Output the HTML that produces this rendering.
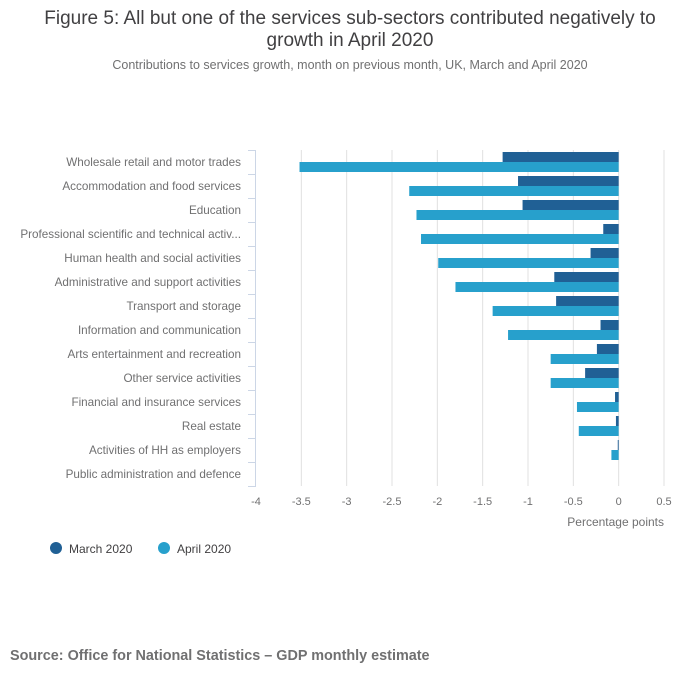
<!DOCTYPE html>
<html><head><meta charset="utf-8"><style>
body{margin:0;background:#fff;font-family:"Liberation Sans",sans-serif;}
svg text{font-family:"Liberation Sans",sans-serif;}
</style></head><body>
<svg width="700" height="682" viewBox="0 0 700 682" xmlns="http://www.w3.org/2000/svg" id="chart">
<text x="350" y="24" text-anchor="middle" font-size="19" fill="#414042">Figure 5: All but one of the services sub-sectors contributed negatively to</text>
<text x="350" y="46" text-anchor="middle" font-size="19" fill="#414042">growth in April 2020</text>
<text x="350" y="69" text-anchor="middle" font-size="12.5" fill="#707071">Contributions to services growth, month on previous month, UK, March and April 2020</text>
<g id="grid"></g><g id="bars"></g><g id="axes"></g>
<text x="664" y="526" text-anchor="end" font-size="12" fill="#707071">Percentage points</text>
<g>
<circle cx="56" cy="548" r="6" fill="#206095"/>
<text x="69" y="553" font-size="12" fill="#414042">March 2020</text>
<circle cx="164" cy="548" r="6" fill="#27a0cc"/>
<text x="177" y="553" font-size="12" fill="#414042">April 2020</text>
</g>
<text x="10" y="660" font-size="14.4" font-weight="bold" fill="#707071">Source: Office for National Statistics – GDP monthly estimate</text>
</svg>
<script>
const categories=["Wholesale retail and motor trades","Accommodation and food services","Education","Professional scientific and technical activ...","Human health and social activities","Administrative and support activities","Transport and storage","Information and communication","Arts entertainment and recreation","Other service activities","Financial and insurance services","Real estate","Activities of HH as employers","Public administration and defence"];
const march=[-1.28,-1.11,-1.06,-0.17,-0.31,-0.71,-0.69,-0.20,-0.24,-0.37,-0.04,-0.03,-0.01,0];
const april=[-3.52,-2.31,-2.23,-2.18,-1.99,-1.80,-1.39,-1.22,-0.75,-0.75,-0.46,-0.44,-0.08,0];
const ticks=[-4,-3.5,-3,-2.5,-2,-1.5,-1,-0.5,0,0.5];
const tickLabels=["-4","-3.5","-3","-2.5","-2","-1.5","-1","-0.5","0","0.5"];
const NS="http://www.w3.org/2000/svg";
const x=v=>256+(v+4)*(408/4.5);
const plotTop=150,band=24;
const y=i=>plotTop+i*band;
function mk(t,a,p){const e=document.createElementNS(NS,t);for(const k in a)e.setAttribute(k,a[k]);p.appendChild(e);return e;}
const grid=document.getElementById('grid'),bars=document.getElementById('bars'),axes=document.getElementById('axes');
ticks.forEach((t,i)=>{
 if(i>0){const g=mk('line',{x1:x(t),x2:x(t),y1:plotTop,y2:plotTop+band*categories.length,stroke:'#e0e0e0','stroke-width':1},grid);
 
 }
 const tx=mk('text',{x:x(t),y:505,'text-anchor':'middle','font-size':11,fill:'#707071'},axes);
 tx.textContent=tickLabels[i];
 
 
});
const ax=mk('line',{x1:255.5,x2:255.5,y1:plotTop,y2:plotTop+band*categories.length,stroke:'#ccd6e6','stroke-width':1},axes);


for(let i=0;i<=categories.length;i++){
 const tk=mk('line',{x1:248,x2:256,y1:y(i)+0.5,y2:y(i)+0.5,stroke:'#ccd6e6','stroke-width':1},axes);
 
 
}
categories.forEach((c,i)=>{
 const t=mk('text',{x:241,y:y(i)+16,'text-anchor':'end','font-size':11.7,fill:'#707071'},axes);
 t.textContent=c;
 
 
 const m=march[i],a=april[i];
 const b1=mk('rect',{x:Math.min(x(m),x(0)),y:y(i)+2,width:Math.abs(x(m)-x(0)),height:10,fill:'#206095'},bars);
 
 
 const b2=mk('rect',{x:Math.min(x(a),x(0)),y:y(i)+12,width:Math.abs(x(a)-x(0)),height:10,fill:'#27a0cc'},bars);
 
 
});
</script>
</body></html>
